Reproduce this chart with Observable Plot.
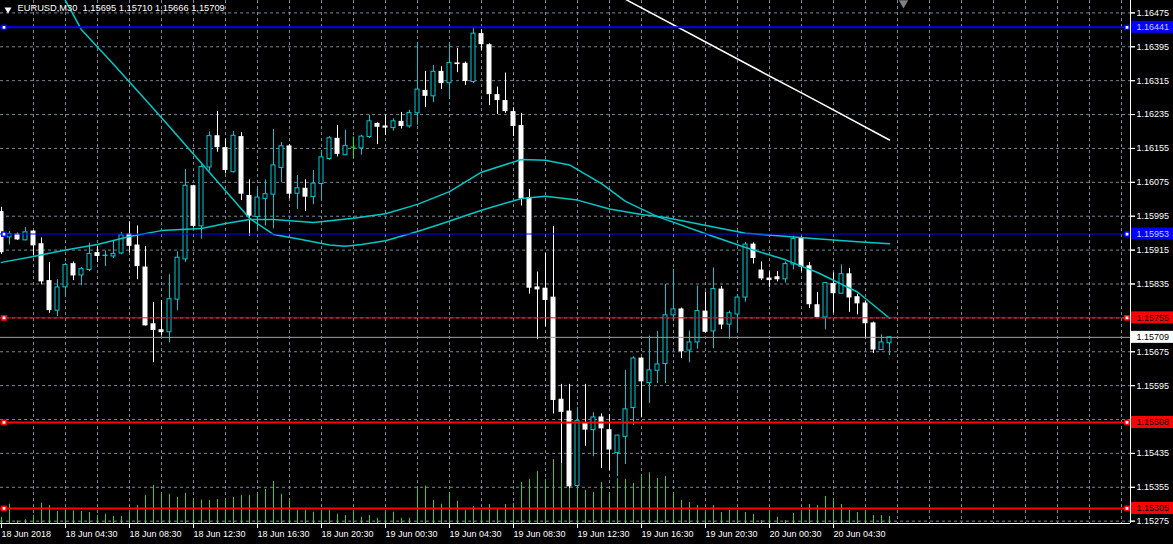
<!DOCTYPE html>
<html><head><meta charset="utf-8">
<script src="https://cdn.jsdelivr.net/npm/d3@7"></script>
<script src="https://cdn.jsdelivr.net/npm/@observablehq/plot@0.6"></script>
<style>
html,body{margin:0;padding:0;background:#000;}
#chart{width:1173px;height:544px;overflow:hidden;background:#000;}
</style></head><body><div id="chart"></div>
<script>
// ---- data (EURUSD M30 bars, index 0 = first visible bar) ----
const opens  = [1.16006,1.15945,1.15953,1.15938,1.15960,1.15930,1.15843,1.15772,1.15827,1.15883,1.15855,1.15868,1.15909,1.15901,1.15900,1.15907,1.15953,1.15927,1.15875,1.15741,1.15727,1.15721,1.15798,1.15893,1.16067,1.15971,1.16110,1.16185,
1.16157,1.16099,1.16183,1.16044,1.15993,1.16036,1.16046,1.16109,1.16161,1.16048,1.16061,1.16040,1.16071,1.16130,1.16179,1.16139,1.16158,1.16155,1.16182,1.16214,1.16208,1.16203,1.16219,1.16207,1.16238,1.16292,1.16278,1.16337,
1.16309,1.16357,1.16356,1.16312,1.16426,1.16400,1.16282,1.16268,1.16242,1.16209,1.16039,1.15828,1.15825,1.15804,1.15563,1.15535,1.15358,1.15506,1.15490,1.15521,1.15491,1.15436,1.15474,1.15542,1.15660,1.15601,1.15630,
1.15646,1.15761,1.15776,1.15678,1.15697,1.15771,1.15723,1.15823,1.15739,1.15763,1.15803,1.15929,1.15868,1.15849,1.15852,1.15846,1.15881,1.15943,1.15878,1.15786,1.15756,1.15836,1.15812,1.15859,1.15805,1.15790,1.15743,1.15679,1.15695];
const highs  = [1.16016,1.15959,1.15955,1.15968,1.15961,1.15944,1.15886,1.15845,1.15884,1.15887,1.15874,1.15931,1.15924,1.15913,1.15937,1.15957,1.15982,1.15972,1.15923,1.15791,1.15796,1.15857,1.15911,1.16105,1.16068,1.16116,1.16194,1.16242,
1.16177,1.16195,1.16192,1.16081,1.16064,1.16081,1.16200,1.16169,1.16164,1.16091,1.16081,1.16103,1.16149,1.16183,1.16209,1.16198,1.16182,1.16186,1.16234,1.16216,1.16234,1.16225,1.16240,1.16245,1.16405,1.16337,1.16351,1.16348,
1.16404,1.16391,1.16359,1.16441,1.16435,1.16402,1.16300,1.16333,1.16251,1.16238,1.16058,1.15863,1.15907,1.15971,1.15598,1.15598,1.15543,1.15598,1.15531,1.15528,1.15527,1.15478,1.15631,1.15663,1.15661,1.15712,1.15723,
1.15834,1.15870,1.15778,1.15724,1.15830,1.15816,1.15873,1.15829,1.15771,1.15809,1.15933,1.15932,1.15887,1.15864,1.15864,1.15887,1.15948,1.15946,1.15886,1.15815,1.15838,1.15861,1.15880,1.15872,1.15811,1.15794,1.15745,1.15715,1.15710];
const lows   = [1.15905,1.15927,1.15938,1.15937,1.15901,1.15833,1.15766,1.15758,1.15805,1.15843,1.15831,1.15864,1.15886,1.15876,1.15895,1.15904,1.15908,1.15845,1.15736,1.15649,1.15712,1.15696,1.15772,1.15886,1.15967,1.15941,1.16101,1.16146,
1.16095,1.16097,1.16032,1.15948,1.15960,1.15972,1.15965,1.16074,1.16036,1.16011,1.16006,1.16022,1.16031,1.16127,1.16135,1.16138,1.16131,1.16139,1.16179,1.16164,1.16186,1.16196,1.16201,1.16203,1.16210,1.16252,1.16263,1.16294,
1.16271,1.16334,1.16304,1.16308,1.16386,1.16256,1.16235,1.16238,1.16183,1.16019,1.15811,1.15704,1.15734,1.15528,1.15411,1.15352,1.15356,1.15452,1.15427,1.15399,1.15394,1.15380,1.15409,1.15501,1.15519,1.15553,1.15600,
1.15600,1.15746,1.15659,1.15649,1.15681,1.15719,1.15682,1.15727,1.15705,1.15721,1.15792,1.15882,1.15843,1.15826,1.15840,1.15837,1.15868,1.15864,1.15777,1.15756,1.15727,1.15766,1.15811,1.15768,1.15762,1.15706,1.15671,1.15678,1.15666];
const closes = [1.15909,1.15953,1.15939,1.15957,1.15925,1.15840,1.15772,1.15827,1.15880,1.15854,1.15870,1.15906,1.15900,1.15902,1.15906,1.15950,1.15924,1.15876,1.15736,1.15725,1.15720,1.15799,1.15897,1.16067,1.15971,1.16111,1.16184,1.16157,
1.16103,1.16185,1.16047,1.15995,1.16039,1.16047,1.16115,1.16160,1.16047,1.16061,1.16040,1.16072,1.16134,1.16179,1.16141,1.16161,1.16158,1.16183,1.16219,1.16205,1.16203,1.16219,1.16207,1.16239,1.16294,1.16278,1.16336,1.16308,
1.16357,1.16353,1.16313,1.16426,1.16400,1.16282,1.16268,1.16242,1.16207,1.16036,1.15825,1.15821,1.15796,1.15560,1.15532,1.15356,1.15511,1.15490,1.15520,1.15493,1.15443,1.15477,1.15539,1.15659,1.15604,1.15631,1.15645,
1.15761,1.15775,1.15675,1.15697,1.15771,1.15721,1.15823,1.15738,1.15766,1.15803,1.15928,1.15895,1.15847,1.15843,1.15845,1.15882,1.15941,1.15875,1.15786,1.15756,1.15837,1.15812,1.15858,1.15802,1.15788,1.15741,1.15679,1.15697,1.15709];
const volumes = [6,19.3,2.7,3.7,8,20.3,18,12,14.7,12.7,12,11,8,9.3,7,7,12,18,28,38,30,29.3,26,30,24,23.3,23,24,
24,26,28,28,30,34,42,29.3,24,13.3,13.3,11.3,13.3,13.3,9.3,8,12,6,8,5.3,12,11.3,5.3,5.3,34.7,37.3,23,19.3,
31,22,13.3,17,13.3,19,14.7,19,20,41,44,52,44,64,60,49,42,33,31,41,31,44.7,44,40,48,50.7,45,
47,30,23,21,18,12,18,11,13,13,11,9,3,13,6,3,10,12,19,18,27,24,19,13,11,13,8,8,7];

// moving averages (bar index, value)
const maFastBars   = [0,4,8,12,16,20,25,28,31,34,39,44,48,52,56,60,65,68,71,75,78,82,89,93,98,102,107,111];
const maFastValues = [1.15886,1.15900,1.15915,1.15928,1.15947,1.15961,1.15966,1.15978,1.15987,1.15987,1.15980,1.15990,1.16001,1.16023,1.16053,1.16099,1.16129,1.16127,1.16116,1.16072,1.16030,1.15994,1.15947,1.15921,1.15892,1.15862,1.15816,1.15754];
const maSlowBars   = [7,8,10,14,18,21,25,28,31,34,37,41,43,45,48,52,55,60,65,68,72,76,80,83,93,101,107,111];
const maSlowValues = [1.16542,1.16504,1.16435,1.16354,1.16270,1.16206,1.16120,1.16055,1.15990,1.15952,1.15942,1.15927,1.15924,1.15928,1.15937,1.15959,1.15977,1.16009,1.16037,1.16042,1.16033,1.16012,1.15999,1.15992,1.15955,1.15943,1.15935,1.15930];
const maLongBars   = [78,95,102,111];
const maLongValues = [1.16507,1.16336,1.16266,1.16175];

// horizontal levels
const levelPrices = [1.16441,1.15953,1.15755,1.15508,1.15305];
const levelColors = ["#0000ff","#0000ff","#ff0000","#ff0000","#ff0000"];
const levelWidths = [2,1,1,2,2];
const levelTextColors = ["#c8c8ff","#c8c8ff","#000000","#000000","#000000"];
const bidPrice = 1.15709;

// axis: grid levels and the price labels that stay visible
const priceGrid = [1.16475,1.16395,1.16315,1.16235,1.16155,1.16075,1.15995,1.15915,1.15835,1.15755,1.15675,1.15595,1.15515,1.15435,1.15355,1.15275];
const priceTickLabels = [1.16475,1.16395,1.16315,1.16235,1.16155,1.16075,1.15995,1.15915,1.15835,1.15675,1.15595,1.15435,1.15355,1.15275];
const timeTickBars = [0,8,16,24,32,40,48,56,64,72,80,88,96,104];
const timeTickLabels = ["18 Jun 2018","18 Jun 04:30","18 Jun 08:30","18 Jun 12:30","18 Jun 16:30","18 Jun 20:30","19 Jun 00:30","19 Jun 04:30","19 Jun 08:30","19 Jun 12:30","19 Jun 16:30","19 Jun 20:30","20 Jun 00:30","20 Jun 04:30"];
const titleText = "EURUSD,M30  1,15695 1,15710 1,15666 1,15709";
const shiftBar = 112.75;

// ---- build ----
const W = 1173, H = 544, MR = 43, MB = 21;
const yDomain = [1.152695, 1.165043];
const xDomain = [-0.125, 141.125];
const pxPrice = (yDomain[1] - yDomain[0]) / (H - MB);
const bull = "#00c8d2", ma = "#00c8c8", grid = "#778899";

const bars = opens.map((o, i) => ({i, o, h: highs[i], l: lows[i], c: closes[i], v: volumes[i]}));
const ups = bars.filter(d => d.c > d.o);
const downs = bars.filter(d => d.c < d.o);
const dojis = bars.filter(d => d.c === d.o);
const levels = levelPrices.map((p, k) => ({p, color: levelColors[k], w: levelWidths[k], tc: levelTextColors[k]}));
const labels = [...levels, {p: bidPrice, color: "#ffffff", tc: "#000000"}];
const toPts = (bs, vs) => bs.map((b, k) => ({i: b, v: vs[k]}));
const gridBars = d3.range(4, 141, 4);

const chart = Plot.plot({
  width: W, height: H,
  marginLeft: 0, marginRight: MR, marginTop: 0, marginBottom: MB,
  x: {domain: xDomain, axis: null, label: null},
  y: {domain: yDomain, axis: null, label: null},
  style: {background: "#000", color: "#fff", fontFamily: "Liberation Sans, Arial, sans-serif", fontSize: "9px"},
  marks: [
    Plot.ruleY(priceGrid, {stroke: grid, strokeDasharray: "3,3"}),
    Plot.ruleX(gridBars, {stroke: grid, strokeDasharray: "3,3"}),
    Plot.ruleX(bars, {x: "i", y1: () => yDomain[0], y2: d => yDomain[0] + d.v * pxPrice, stroke: "#32cd32"}),
    Plot.ruleX(bars, {x: "i", y1: "l", y2: "h", stroke: d => d.c > d.o ? bull : d.c < d.o ? "#ffffff" : "#00ff00"}),
    Plot.rect(downs, {x1: d => d.i - 2.5/8, x2: d => d.i + 2.5/8, y1: "o", y2: "c", fill: "#ffffff"}),
    Plot.rect(ups, {x1: d => d.i - 2/8, x2: d => d.i + 2/8, y1: "o", y2: "c", fill: "#000", stroke: bull}),
    Plot.ruleY(dojis, {y: "c", x1: d => d.i - 2.5/8, x2: d => d.i + 2.5/8, stroke: "#00ff00"}),
    Plot.line(toPts(maLongBars, maLongValues), {x: "i", y: "v", stroke: "#ffffff", clip: true, curve: "natural"}),
    Plot.line(toPts(maSlowBars, maSlowValues), {x: "i", y: "v", stroke: ma, clip: true}),
    Plot.line(toPts(maFastBars, maFastValues), {x: "i", y: "v", stroke: ma, clip: true}),
    Plot.ruleY([bidPrice], {stroke: "#a0a0a0"}),
    Plot.ruleY(levels, {y: "p", stroke: "color", strokeWidth: "w"}),
    Plot.dot(levels, {y: "p", frameAnchor: "left", dx: 3.5, symbol: "square", r: 2.4, fill: "#fff", stroke: "color"}),
    Plot.dot(levels, {y: "p", frameAnchor: "right", dx: -3.5, symbol: "square", r: 2.4, fill: "#fff", stroke: "color"}),
    Plot.ruleY([yDomain[0]], {stroke: "#fff"}),
    Plot.ruleX([xDomain[1]], {stroke: "#fff"}),
    Plot.axisY(priceGrid, {anchor: "right", label: null, tickSize: 4, tickFormat: null, text: null}),
    Plot.axisY(priceTickLabels, {anchor: "right", label: null, tickSize: 4, tickPadding: 2, tickFormat: d => d.toFixed(5), fontSize: 9}),
    Plot.axisX(timeTickBars, {anchor: "bottom", label: null, tickSize: 5, tickPadding: 2, textAnchor: "start", tickFormat: d => timeTickLabels[timeTickBars.indexOf(d)], fontSize: 9}),
    Plot.rect(labels, {x1: () => xDomain[1] + 1/8, x2: () => xDomain[1] + MR/8, y1: "p", y2: "p", insetTop: -6, insetBottom: -6, fill: "color"}),
    Plot.text(labels, {y: "p", text: d => d.p.toFixed(5), frameAnchor: "right", dx: 6, textAnchor: "start", fill: "tc", fontSize: 9}),
    Plot.dot([shiftBar], {x: d => d, frameAnchor: "top", dy: 2.5, symbol: "triangle", rotate: 180, r: 3.5, fill: "#808080"}),
    Plot.dot([titleText], {frameAnchor: "top-left", dx: 7.5, dy: 9, symbol: "triangle", rotate: 180, r: 2.6, fill: "#fff"}),
    Plot.text([titleText], {frameAnchor: "top-left", dx: 17, dy: 4, textAnchor: "start", lineAnchor: "top", fill: "#fff", fontSize: 9.3})
  ]
});
document.getElementById("chart").appendChild(chart);
</script></body></html>
